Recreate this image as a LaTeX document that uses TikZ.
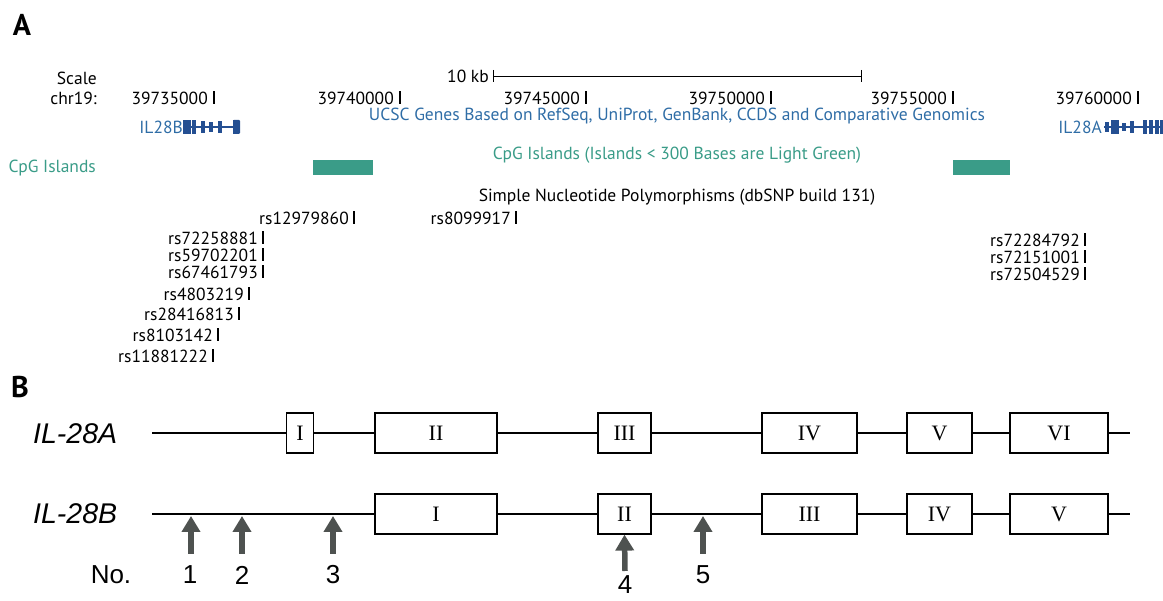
\documentclass[tikz,border=0pt]{standalone}
\usepackage{fontspec}
\setmainfont{PT Sans}
\newfontfamily\arialfont{Liberation Sans}
\newfontfamily\timesfont{Liberation Serif}
\usetikzlibrary{arrows.meta,positioning}
\definecolor{ucscblue}{HTML}{2F6DA6}
\definecolor{genedark}{HTML}{244F92}
\definecolor{cpggreen}{HTML}{3A9C88}
\definecolor{arrowgray}{HTML}{4E5250}

\begin{document}
\begin{tikzpicture}[x=1pt,y=-1pt,
every node/.style={inner sep=0pt},
trk/.style={font=\fontsize{17.5}{17.5}\selectfont},
tickbar/.style={line width=1.3pt},
exon/.style={draw,line width=1.2pt,minimum height=40pt,font=\timesfont\fontsize{22}{22}\selectfont},
genename/.style={font=\arialfont\itshape\fontsize{28.5}{28.5}\selectfont},
numlbl/.style={font=\arialfont\fontsize{26}{26}\selectfont},
pointer/.style={draw=arrowgray,line width=5.5pt,-{Triangle[width=18pt,length=16pt]}},
panel/.style={font=\bfseries\fontsize{30}{30}\selectfont}]
\useasboundingbox (0,0) rectangle (1163,601);

% panel A
\node[panel] (lblA) at (22,25) {A};
\node[trk,anchor=east] (scl) at (97,78) {Scale};
\node[trk,anchor=east] (chr) at (97,98) {chr19:};

% scale bar
\node[trk,anchor=east] (kb) at (489,76) {10 kb};
\coordinate (kbL) at (493,76);
\coordinate (kbR) at (861,76);
\draw[line width=0.8pt] (kbL)--(kbR);
\draw[line width=0.8pt] ([yshift=6pt]kbL)--([yshift=-6pt]kbL);
\draw[line width=0.8pt] ([yshift=6pt]kbR)--([yshift=-6pt]kbR);

% positions
\node[trk,anchor=east] (p1) at (208,98) {39735000};
\node[trk,anchor=east] (p2) at (394,98) {39740000};
\node[trk,anchor=east] (p3) at (580,98) {39745000};
\node[trk,anchor=east] (p4) at (765,98) {39750000};
\node[trk,anchor=east] (p5) at (947,98) {39755000};
\node[trk,anchor=east] (p6) at (1132,98) {39760000};
\foreach \p in {p1,p2,p3,p4,p5,p6}
  \draw[tickbar] ([xshift=6pt]\p.north east)--([xshift=6pt]\p.base east);

% genes
\node[trk,text=ucscblue] (ucsc) at (677,116) {UCSC Genes Based on RefSeq, UniProt, GenBank, CCDS and Comparative Genomics};
\node[trk,text=ucscblue,anchor=east] (g28b) at (183,127) {IL28B};
\node[trk,text=ucscblue,anchor=east] (g28a) at (1102,127) {IL28A};
\draw[genedark,line width=1.3pt] (185,127)--(239,127);
\foreach \x/\h in {185/7,189/7,194/7,203/6,211/5,220/6,235/7}
  \fill[genedark] (\x-1.6,127-\h) rectangle (\x+1.6,127+\h);
\fill[genedark,rounded corners=1pt] (233,120) rectangle (240,134);
\draw[genedark,line width=1.3pt] (1104,127)--(1163,127);
\foreach \x/\h in {1107/5,1113/7,1117/7,1124/4,1132/6,1145/7,1151/7,1157/7,1162/7}
  \fill[genedark] (\x-1.6,127-\h) rectangle (\x+1.6,127+\h);

% cpg islands
\node[trk,text=cpggreen] (cpgcap) at (677,155) {CpG Islands (Islands < 300 Bases are Light Green)};
\node[trk,text=cpggreen,anchor=east] (cpg) at (96,168) {CpG Islands};
\fill[cpggreen] (313,160) rectangle (373,175);
\fill[cpggreen] (953,160) rectangle (1010,175);

% snps
\node[trk] (snpcap) at (677,197) {Simple Nucleotide Polymorphisms (dbSNP build 131)};
\node[trk,anchor=east] (s1) at (349,218) {rs12979860};
\node[trk,anchor=east] (s2) at (511,218) {rs8099917};
\node[trk,anchor=east] (s3) at (258,238) {rs72258881};
\node[trk,anchor=east] (s4) at (258,255) {rs59702201};
\node[trk,anchor=east] (s5) at (258,272) {rs67461793};
\node[trk,anchor=east] (s6) at (244,294) {rs4803219};
\node[trk,anchor=east] (s7) at (234,314) {rs28416813};
\node[trk,anchor=east] (s8) at (213,335) {rs8103142};
\node[trk,anchor=east] (s9) at (208,356) {rs11881222};
\node[trk,anchor=east] (s10) at (1080,240) {rs72284792};
\node[trk,anchor=east] (s11) at (1080,257) {rs72151001};
\node[trk,anchor=east] (s12) at (1080,274) {rs72504529};
\foreach \s in {s1,s2,s3,s4,s5,s6,s7,s8,s9,s10,s11,s12}
  \draw[tickbar] ([xshift=5pt]\s.north east)--([xshift=5pt]\s.base east);

% panel B
\node[panel] (lblB) at (20,387) {B};
\node[genename,anchor=west] (IA) at (33,434) {IL-28A};
\node[genename,anchor=west] (IB) at (33,514) {IL-28B};

\node[exon,minimum width=27pt] (A1) at (300,433) {I};
\node[exon,minimum width=122pt] (A2) at (436,433) {II};
\node[exon,minimum width=53pt] (A3) at (624.5,433) {III};
\node[exon,minimum width=95pt] (A4) at (809.5,433) {IV};
\node[exon,minimum width=65pt] (A5) at (939.5,433) {V};
\node[exon,minimum width=98pt] (A6) at (1059,433) {VI};
\coordinate (A0) at (152,433);
\coordinate (A7) at (1130,433);
\draw[line width=1.2pt] (A0)--(A1)--(A2)--(A3)--(A4)--(A5)--(A6)--(A7);

\node[exon,minimum width=122pt] (B1) at (436,514) {I};
\node[exon,minimum width=53pt] (B2) at (624.5,514) {II};
\node[exon,minimum width=95pt] (B3) at (809.5,514) {III};
\node[exon,minimum width=65pt] (B4) at (939.5,514) {IV};
\node[exon,minimum width=65pt,minimum width=98pt] (B5) at (1059,514) {V};
\coordinate (B0) at (152,514);
\coordinate (B6) at (1130,514);
\draw[line width=1.2pt] (B0)--(B1)--(B2)--(B3)--(B4)--(B5)--(B6);

% snp sites
\node[numlbl] (no) at (111,575) {No.};
\node[numlbl] (n1) at (190,575) {1};
\node[numlbl] (n2) at (242,575) {2};
\node[numlbl] (n3) at (333,575) {3};
\node[numlbl] (n4) at (625,585) {4};
\node[numlbl] (n5) at (703,575) {5};
\foreach \x/\k in {191/1,242/2,333/3,703/5}{
  \coordinate (f\k) at (\x,554);
  \coordinate (t\k) at (\x,516);
  \draw[pointer] (f\k)--(t\k);
}
\coordinate (f4) at (625,571);
\draw[pointer] (f4)--(B2.south);
\end{tikzpicture}
\end{document}
